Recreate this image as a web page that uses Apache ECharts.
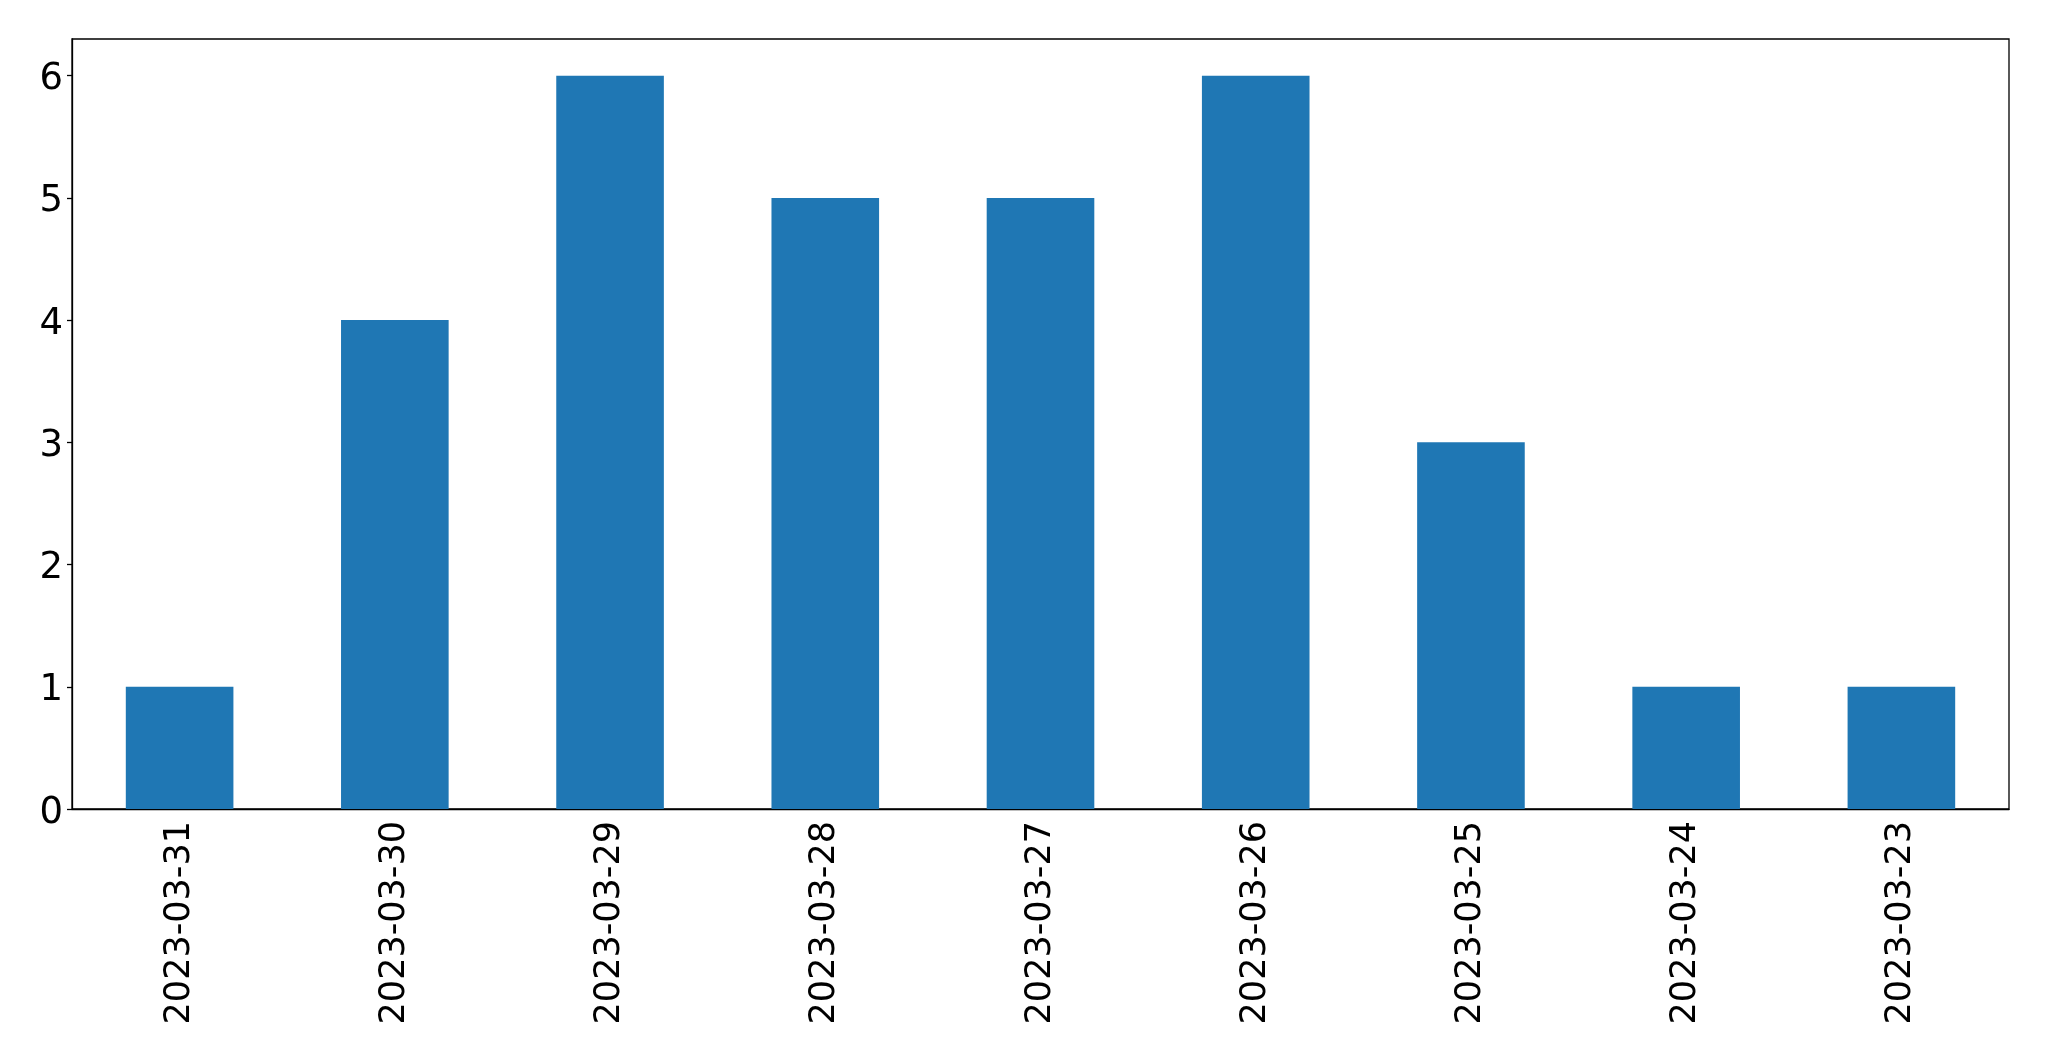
<!DOCTYPE html>
<html>
<head>
<meta charset="utf-8">
<script src="https://cdn.jsdelivr.net/npm/echarts@6/dist/echarts.min.js"></script>
<style>
  html, body { margin: 0; padding: 0; background: #fff; }
  #chart { width: 2049px; height: 1061px; }
</style>
</head>
<body>
<div id="chart"></div>
<script>
const dates = ['2023-03-31', '2023-03-30', '2023-03-29', '2023-03-28', '2023-03-27',
  '2023-03-26', '2023-03-25', '2023-03-24', '2023-03-23'];
const counts = [1, 4, 6, 5, 5, 6, 3, 1, 1];
const yTicks = [0, 1, 2, 3, 4, 5, 6];

const chart = echarts.init(document.getElementById('chart'));
const font = 'DejaVu Sans';

chart.setOption({
  backgroundColor: '#fff',
  animation: false,
  grid: {
    left: 72,
    right: 40,
    top: 39,
    bottom: 252,
    show: true,
    borderColor: '#000',
    borderWidth: 1.3,
    containLabel: false,
  },
  xAxis: {
    type: 'category',
    data: dates,
    axisLine: { lineStyle: { color: '#000', width: 1.3 } },
    axisTick: { alignWithLabel: true, length: 6, lineStyle: { color: '#000', width: 1.3 } },
    axisLabel: {
      rotate: 90,
      margin: 12,
      color: '#000',
      fontSize: 35,
      fontFamily: font,
      interval: 0,
    },
    splitLine: { show: false },
  },
  yAxis: {
    type: 'value',
    min: 0,
    max: 6.3,
    interval: 1,
    axisLine: { show: true, lineStyle: { color: '#000', width: 1.3 } },
    axisTick: { show: true, length: 5, customValues: yTicks, lineStyle: { color: '#000', width: 1.3 } },
    axisLabel: {
      margin: 9,
      color: '#000',
      fontSize: 37,
      fontFamily: font,
      customValues: yTicks,
      formatter: '{n|{value}}',
      rich: {
        n: { fontSize: 37, fontFamily: font, color: '#000', padding: [8, 0, 0, 0] },
      },
    },
    splitLine: { show: false },
  },
  series: [
    {
      type: 'bar',
      data: counts,
      barWidth: '50%',
      itemStyle: { color: '#1f77b4' },
    },
  ],
});
</script>
</body>
</html>
